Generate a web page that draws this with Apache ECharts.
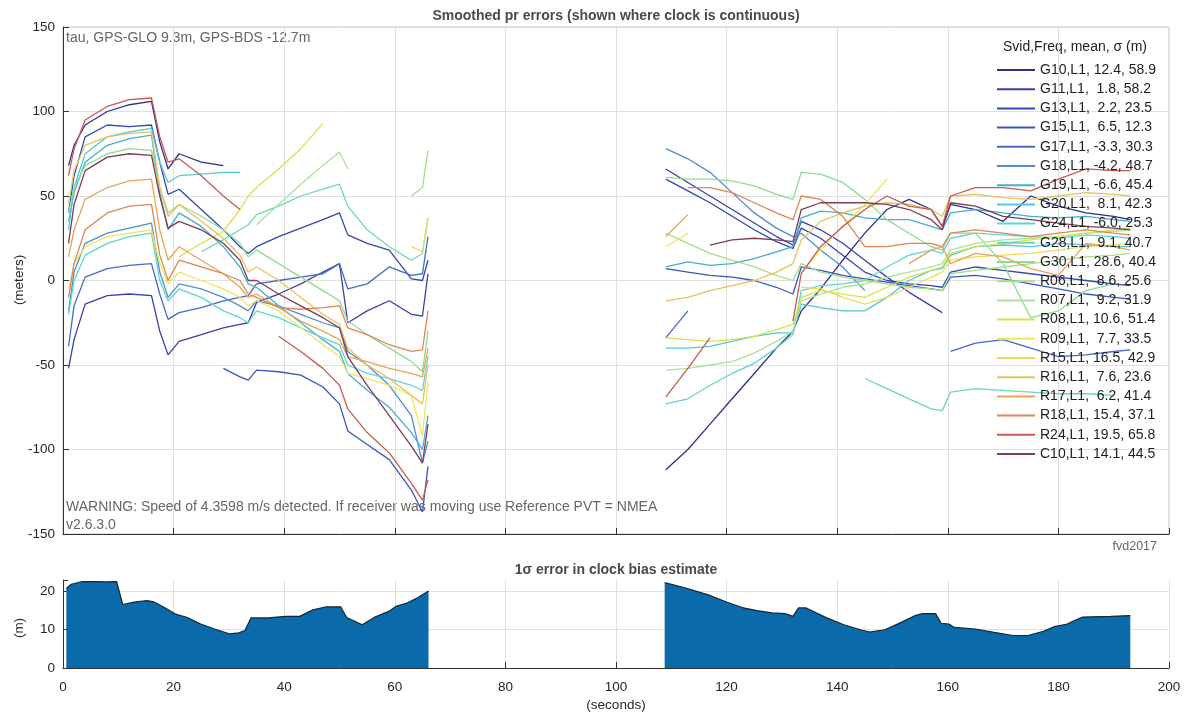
<!DOCTYPE html>
<html><head><meta charset="utf-8">
<script src="https://cdn.jsdelivr.net/npm/echarts/dist/echarts.min.js"></script>
<style>html,body{margin:0;padding:0;background:#fff}#c{width:1189px;height:717px}</style>
</head><body><div id="c"></div>
<script>
const _ = null;
// time samples (seconds) of the two continuous-clock segments
const T_A = [1, 2, 4, 8, 12, 16, 17.5, 19, 21, 25, 29, 32, 33.5, 35, 39, 43, 47, 50, 51.5, 55, 59, 63, 65, 66];
const T_B = [109, 113, 117, 121, 125, 129, 132, 133.5, 137, 141, 145, 149, 153, 157, 159, 160.5, 165, 170, 175, 180, 185, 190, 193];

const SVIDS = ['G10','G11','G13','G15','G17','G18','G19','G20','G24','G28','G30','R06','R07','R08','R09','R15','R16','R17','R18','R24','C10'];
const LABELS = ['G10,L1, 12.4, 58.9','G11,L1,  1.8, 58.2','G13,L1,  2.2, 23.5','G15,L1,  6.5, 12.3','G17,L1, -3.3, 30.3',
 'G18,L1, -4.2, 48.7','G19,L1, -6.6, 45.4','G20,L1,  8.1, 42.3','G24,L1, -6.0, 25.3','G28,L1,  9.1, 40.7','G30,L1, 28.6, 40.4',
 'R06,L1,  8.6, 25.6','R07,L1,  9.2, 31.9','R08,L1, 10.6, 51.4','R09,L1,  7.7, 33.5','R15,L1, 16.5, 42.9','R16,L1,  7.6, 23.6',
 'R17,L1,  6.2, 41.4','R18,L1, 15.4, 37.1','R24,L1, 19.5, 65.8','C10,L1, 14.1, 44.5'];
const COLORS = ['#2e2f8a','#3b3fa8','#3446b4','#3a55be','#4868c6','#4f8fd0','#45aed0','#52c8d8','#5ed6cf','#6fd7b0','#8ddc92',
 '#a5df82','#a9e29a','#d8e24a','#ece85c','#f1da5a','#e9c15c','#e6a458','#e08650','#c85a4f','#803b58'];

// smoothed pr errors (m), segment A (T_A) and segment B (T_B)
const G10_A = [68, 80, 92, 100, 104, 106, 82, 66, 75, 70, 68, _, _, _, _, _, _, _, _, _, _, _, _, _];
const G10_B = [-112, -100, -85, -70, -55, -40, -30, -18, -5, 12, 28, 42, 48, 42, 32, 45, 42, 35, 50, 44, 40, 38, 36];
const G11_A = [-52, -35, -14, -9, -8, -9, -30, -44, -36, -32, -28, -26, -25, -13, -8, -2, 5, 10, -25, -18, -12, -20, -21, 4];
const G11_B = [66, 58, 50, 42, 34, 26, 21, 35, 30, 22, 12, 2, -7, -15, -19, _, _, _, _, _, _, _, _];
const G13_A = [40, 62, 85, 92, 91, 92, 70, 51, 54, 42, 30, 20, 16, 20, 26, 31, 36, 40, 27, 22, 18, 1, 0, 12];
const G13_B = [60, 53, 46, 38, 30, 23, 19, 31, 25, 15, 5, 0, -2, -3, -4, 5, 8, 6, 4, 2, 0, -2, -3];
const G15_A = [_, _, _, _, _, _, _, _, _, _, -52, -57, -59, -53, -54, -56, -63, -73, -89, -97, -106, -124, -137, -110];
const G15_B = [7, 5, 3, 2, 0, -4, -8, 8, 6, 3, 1, -1, -3, -5, -6, 2, 3, 1, -2, -5, -8, -10, -11];
const G17_A = [-39, -15, 2, 7, 9, 10, -8, -23, -19, -16, -12, -10, -9, -2, 0, 2, 4, 10, -5, -2, 8, 3, 4, 26];
const G17_B = [-34, -18, _, _, _, _, _, _, _, _, _, _, _, _, _, -42, -37, -35, -40, -45, -44, -42, -41];
const G18_A = [-18, 5, 22, 28, 31, 34, 5, -10, -2, -5, -10, -15, -18, -12, -15, -20, -25, -28, -42, -50, -62, -80, -108, -95];
const G18_B = [78, 72, 64, 52, 40, 31, 26, 28, 18, 8, -6, _, _, _, _, _, _, _, _, _, _, _, _];
const G19_A = [35, 52, 70, 80, 84, 86, 52, 30, 40, 32, 20, 8, -2, -4, -15, -25, -35, -42, -55, -65, -75, -90, -100, -80];
const G19_B = [8, 11, 9, 10, 13, 17, 20, 37, 41, 40, 37, 36, 36, 32, 30, 40, 42, 40, 38, 37, 38, 36, 35];
const G20_A = [30, 55, 75, 85, 88, 90, 70, 58, 62, 63, 64, 64, _, _, _, _, _, _, _, _, _, _, _, _];
const G20_B = [-40, -40, -39, -36, -33, -31, -31, -14, -16, -18, -18, -10, 0, 6, 7, 15, 20, 21, 20, 22, 21, 20, 20];
const G24_A = [-20, 0, 15, 22, 26, 28, 0, -12, -5, -10, -18, -22, -25, -18, -22, -28, -34, -38, -50, -55, -58, -62, -65, -45];
const G24_B = [-73, -70, -62, -55, -49, -40, -32, -6, -3, -2, 0, 8, 15, 18, 16, 25, 28, 27, 26, 25, 27, 26, 25];
const G28_A = [_, _, _, _, _, _, _, _, _, 17, 24, 30, 33, 39, 44, 50, 54, 57, 44, 30, 20, 12, 16, 37];
const G28_B = [_, _, _, _, _, _, _, _, _, _, -58, -64, -70, -76, -77, -66, -64, -65, -66, -67, -67, -68, _];
const G30_A = [40, 55, 68, 75, 78, 77, 55, 40, 45, 38, 30, 22, 14, 18, 10, 2, -6, -12, -24, -32, -40, -48, -54, -30];
const G30_B = [61, 60, 60, 59, 56, 51, 48, 64, 63, 58, 48, 36, 28, 20, 18, 28, 28, 10, -22, -18, -6, -2, _];
const R06_A = [_, _, _, _, _, _, _, _, _, _, _, _, _, _, _, _, _, _, _, _, _, 50, 55, 77];
const R06_B = [28, 22, 16, 12, 8, 3, 0, 10, 5, 2, 0, -2, -4, -5, -6, 4, 6, 8, 10, 12, 14, 15, 16];
const R07_A = [_, _, _, _, _, _, _, _, _, _, _, _, _, 33, 45, 57, 68, 76, 66, _, _, _, _, _];
const R07_B = [-53, -52, -50, -48, -43, -36, -30, -12, -8, -4, -2, 2, 5, 8, 10, 18, 22, 24, 25, 26, 28, 29, 30];
const R08_A = [_, _, _, _, _, _, _, _, 14, 22, 29, 42, 50, 55, 66, 78, 93, _, _, _, _, _, _, _];
const R08_B = [-34, -35, -36, -35, -33, -29, -26, -10, -6, -8, -10, -4, 2, 6, 8, 16, 20, 22, 24, 26, 28, 30, 31];
const R09_A = [-5, 10, 20, 26, 28, 30, 10, -2, 5, 0, -5, -10, -15, -12, -18, -28, -38, -45, -55, -58, -62, -68, -92, -60];
const R09_B = [20, 28, _, _, _, _, _, 5, 18, 32, 45, 60, _, _, _, _, _, _, _, _, _, _, _];
const R15_A = [_, _, _, _, _, _, _, _, _, _, _, _, _, _, _, _, _, _, _, _, _, 20, 17, 37];
const R15_B = [_, _, _, _, _, _, _, -4, -5, -10, -14, -10, -4, 2, 5, 12, 14, 15, 16, 18, 20, 21, 22];
const R16_A = [45, 65, 80, 85, 87, 88, 55, 38, 45, 35, 25, 15, 5, 8, 0, -10, -20, -26, -40, -50, -58, -68, -73, -50];
const R16_B = [-12, -10, -6, -3, 0, 5, 10, 24, 35, 40, 44, 46, 45, 42, 38, 50, 51, 49, 48, 50, 52, 51, 50];
const R17_A = [14, 30, 48, 55, 59, 60, 30, 12, 20, 12, 4, -4, -10, -8, -16, -24, -30, -35, -45, -48, -52, -55, -57, -40];
const R17_B = [26, 39, _, _, _, _, _, _, _, _, _, _, 10, 18, 20, 10, 16, 14, 7, 3, 22, 20, 18];
const R18_A = [-10, 10, 30, 40, 44, 45, 15, 0, 12, 8, 4, 0, -8, -10, -16, -17, -16, -15, -28, -32, -38, -42, -41, -18];
const R18_B = [_, 55, 55, 52, 46, 40, 36, 50, 48, 38, 20, 20, 22, 22, 20, 28, 30, 28, 26, 28, 30, 28, 27];
const R24_A = [62, 78, 95, 103, 107, 108, 85, 70, 72, 62, 50, 42, _, _, -33, -42, -52, -62, -76, -90, -102, -120, -130, -118];
const R24_B = [-69, -52, -34, _, _, _, -24, 4, 20, 32, 42, 50, 44, 42, 32, 50, 55, 55, 53, 60, 66, 65, 65];
const C10_A = [22, 45, 65, 73, 75, 74, 50, 31, 35, 30, 22, 12, 0, 0, -8, -15, -22, -28, -45, -62, -80, -98, -108, -85];
const C10_B = [_, _, 21, 24, 25, 24, 23, 42, 46, 46, 46, 45, 42, 36, 30, 46, 44, 38, 36, 34, 32, 31, 30];

const SEG_A = [G10_A,G11_A,G13_A,G15_A,G17_A,G18_A,G19_A,G20_A,G24_A,G28_A,G30_A,R06_A,R07_A,R08_A,R09_A,R15_A,R16_A,R17_A,R18_A,R24_A,C10_A];
const SEG_B = [G10_B,G11_B,G13_B,G15_B,G17_B,G18_B,G19_B,G20_B,G24_B,G28_B,G30_B,R06_B,R07_B,R08_B,R09_B,R15_B,R16_B,R17_B,R18_B,R24_B,C10_B];

// 1-sigma clock bias error (m)
const BIAS_T_A = [0.6, 1.5, 3.5, 5.9, 7.9, 9.7, 10.8, 12.8, 15.2, 16.4, 18.5, 20.5, 22.5, 24.9, 27.4, 30.2, 31.8, 32.9, 34, 37.1, 40.3, 42.8, 45.2, 47.6, 50.2, 51.3, 54.1, 56.5, 58.9, 60.2, 62.2, 64.2, 66.1];
const BIAS_V_A = [20.8, 21.9, 22.6, 22.6, 22.5, 22.6, 16.6, 17.2, 17.6, 17.3, 15.7, 14, 13.2, 11.5, 10.2, 8.9, 9.2, 9.8, 13.1, 13.1, 13.5, 13.5, 15.2, 16, 16, 13.2, 11.3, 13.4, 14.8, 16.1, 17, 18.4, 20.1];
const BIAS_T_B = [108.8, 112.6, 116.7, 120.1, 122.8, 125.5, 128.2, 130.6, 132, 133, 134.4, 137.8, 141.2, 144.2, 145.9, 148.6, 151.4, 154.1, 155.4, 157.8, 158.8, 160.2, 161.2, 165, 168.4, 171.8, 174.5, 177.3, 179.3, 181.6, 182.7, 184.4, 189.5, 193];
const BIAS_V_B = [22.3, 20.9, 19.1, 17.2, 15.8, 15, 14.4, 14.2, 13.5, 15.7, 15.7, 13.3, 11.3, 10, 9.4, 10, 11.8, 13.7, 14.2, 14.2, 11.7, 11.5, 10.6, 10.2, 9.3, 8.5, 8.5, 9.6, 10.8, 11.5, 12.3, 13.3, 13.5, 13.7];

const X_TICKS = [0, 20, 40, 60, 80, 100, 120, 140, 160, 180, 200];
const Y_TICKS = [-150, -100, -50, 0, 50, 100, 150];

function joinSeg(ta, va, tb, vb) {
  const d = [];
  ta.forEach((t, i) => d.push([t, va[i] == null ? '-' : va[i]]));
  d.push([88, '-']);
  tb.forEach((t, i) => d.push([t, vb[i] == null ? '-' : vb[i]]));
  return d;
}

const FONT = "'Liberation Sans', Arial, Helvetica, sans-serif";
const chart = echarts.init(document.getElementById('c'), null, {renderer: 'canvas'});

const series = SVIDS.map((name, i) => ({
  name, type: 'line', xAxisIndex: 0, yAxisIndex: 0,
  data: joinSeg(T_A, SEG_A[i], T_B, SEG_B[i]),
  symbol: 'none', connectNulls: false, color: COLORS[i],
  lineStyle: {width: 1.3, color: COLORS[i]},
  emphasis: {disabled: true}, silent: true, z: 2
}));
series.push({
  name: 'bias', type: 'line', xAxisIndex: 1, yAxisIndex: 1,
  data: joinSeg(BIAS_T_A, BIAS_V_A, BIAS_T_B, BIAS_V_B),
  symbol: 'none', connectNulls: false,
  lineStyle: {width: 1.2, color: '#13263a'},
  areaStyle: {color: '#0b6aa9', opacity: 1},
  emphasis: {disabled: true}, silent: true, z: 3
});

const axisTxt = {color: '#262626', fontSize: 13.5, fontFamily: FONT};
const gridLine = {show: true, lineStyle: {color: '#e0e0e0', width: 1}};

chart.setOption({
  animation: false,
  backgroundColor: '#fff',
  grid: [
    {left: 63, top: 27, width: 1106, height: 507, show: true, borderColor: '#c4c4c4', borderWidth: 1, outerBoundsMode: 'none'},
    {left: 63, top: 580, width: 1106, height: 88, show: false, outerBoundsMode: 'none'}
  ],
  xAxis: [
    {type: 'value', gridIndex: 0, min: X_TICKS[0], max: X_TICKS[X_TICKS.length - 1], interval: 20,
     axisLine: {show: true, onZero: false, lineStyle: {color: '#333'}},
     axisTick: {show: true, inside: true, length: 6, lineStyle: {color: '#333'}},
     axisLabel: {show: false}, splitLine: gridLine},
    {type: 'value', gridIndex: 1, min: X_TICKS[0], max: X_TICKS[X_TICKS.length - 1], interval: 20,
     axisLine: {show: true, onZero: false, lineStyle: {color: '#333'}},
     axisTick: {show: true, inside: true, length: 6, lineStyle: {color: '#333'}},
     axisLabel: Object.assign({margin: 12}, axisTxt), splitLine: gridLine}
  ],
  yAxis: [
    {type: 'value', gridIndex: 0, min: Y_TICKS[0], max: Y_TICKS[Y_TICKS.length - 1], interval: 50,
     axisLine: {show: true, onZero: false, lineStyle: {color: '#333'}},
     axisTick: {show: true, inside: true, length: 6, lineStyle: {color: '#333'}},
     axisLabel: Object.assign({margin: 8}, axisTxt), splitLine: gridLine},
    {type: 'value', gridIndex: 1, min: 0, max: 23, interval: 10,
     axisLine: {show: true, onZero: false, lineStyle: {color: '#333'}},
     axisTick: {show: true, inside: true, length: 5, lineStyle: {color: '#333'}},
     axisLabel: Object.assign({margin: 8, formatter: v => (v % 10 === 0 ? String(v) : '')}, axisTxt),
     splitLine: {show: true, lineStyle: {color: ['#e0e0e0', '#e0e0e0', '#e0e0e0', 'rgba(0,0,0,0)']}}}
  ],
  legend: {
    orient: 'vertical', left: 997, top: 63, padding: 0,
    itemWidth: 38, itemHeight: 2, itemGap: 5.2, icon: 'rect',
    data: SVIDS, selectedMode: false,
    formatter: name => LABELS[SVIDS.indexOf(name)],
    textStyle: {fontSize: 14, lineHeight: 14, color: '#1e1e1e', fontFamily: FONT}
  },
  graphic: [
    {type: 'text', x: 616, y: 16, silent: true, style: {text: 'Smoothed pr errors (shown where clock is continuous)', fill: '#4a4a4a', fontSize: 14, fontWeight: 'bold', fontFamily: FONT, align: 'center', verticalAlign: 'middle'}},
    {type: 'text', x: 66, y: 38, silent: true, style: {text: 'tau, GPS-GLO 9.3m, GPS-BDS -12.7m', fill: '#666', fontSize: 14, fontFamily: FONT, align: 'left', verticalAlign: 'middle'}},
    {type: 'text', x: 66, y: 507, silent: true, style: {text: 'WARNING: Speed of 4.3598 m/s detected. If receiver was moving use Reference PVT = NMEA', fill: '#666', fontSize: 14, fontFamily: FONT, align: 'left', verticalAlign: 'middle'}},
    {type: 'text', x: 66, y: 525, silent: true, style: {text: 'v2.6.3.0', fill: '#666', fontSize: 14, fontFamily: FONT, align: 'left', verticalAlign: 'middle'}},
    {type: 'text', x: 1157, y: 547, silent: true, style: {text: 'fvd2017', fill: '#666', fontSize: 12.5, fontFamily: FONT, align: 'right', verticalAlign: 'middle'}},
    {type: 'text', x: 616, y: 570, silent: true, style: {text: '1\u03c3 error in clock bias estimate', fill: '#4a4a4a', fontSize: 14, fontWeight: 'bold', fontFamily: FONT, align: 'center', verticalAlign: 'middle'}},
    {type: 'text', x: 1003, y: 47, silent: true, style: {text: 'Svid,Freq, mean, \u03c3 (m)', fill: '#1e1e1e', fontSize: 14, fontFamily: FONT, align: 'left', verticalAlign: 'middle'}},
    {type: 'text', x: 19, y: 280, rotation: Math.PI / 2, silent: true, style: {text: '(meters)', fill: '#262626', fontSize: 13.5, fontFamily: FONT, align: 'center', verticalAlign: 'middle'}},
    {type: 'text', x: 19, y: 628, rotation: Math.PI / 2, silent: true, style: {text: '(m)', fill: '#262626', fontSize: 13.5, fontFamily: FONT, align: 'center', verticalAlign: 'middle'}},
    {type: 'text', x: 616, y: 705, silent: true, style: {text: '(seconds)', fill: '#262626', fontSize: 13.5, fontFamily: FONT, align: 'center', verticalAlign: 'middle'}}
  ],
  series
});
</script>
</body></html>
